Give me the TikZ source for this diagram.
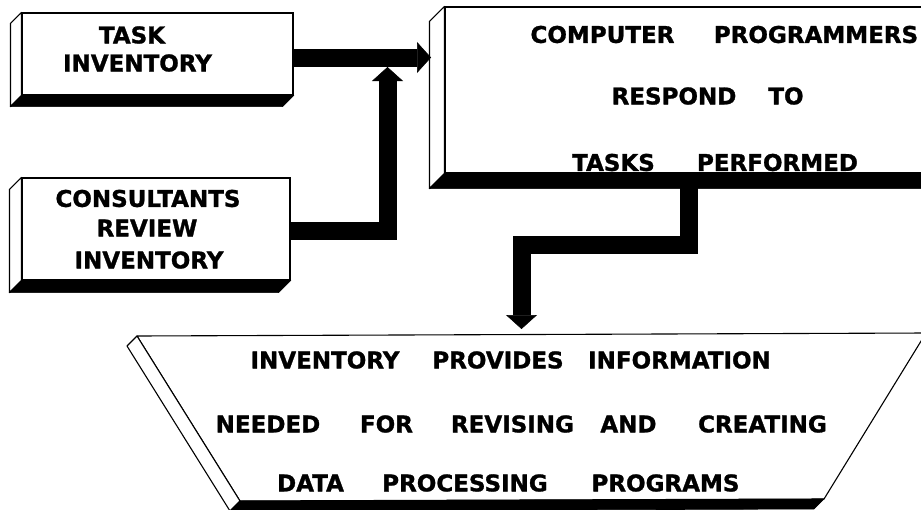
\documentclass[tikz,border=0pt]{standalone}
\usepackage{fontspec}
\setmainfont{DejaVu Sans}[BoldFeatures={FakeBold=1.2}]
\usetikzlibrary{arrows.meta,calc}
% a word centred in a box of fixed width
\newcommand\wordbox[2]{\makebox[#1pt]{#2}}
% side face and dark bottom band of a raised slab, #1 = node, #2 = depth
\newcommand\drawslab[2]{%
  \filldraw[sideface] (#1.north west) -- ++(-#2,#2) -- ($(#1.south west)+(-#2,#2)$) -- (#1.south west) -- cycle;
  \filldraw[band] (#1.south west) -- (#1.south east) -- ++(-#2,#2) -- ($(#1.south west)+(-#2,#2)$) -- cycle;}
\begin{document}
\begin{tikzpicture}[x=1pt,y=-1pt,
  face/.style={draw=black,line width=1.1pt,fill=white,inner sep=0pt},
  sideface/.style={draw=black,line width=1.1pt,fill=white,line join=round},
  band/.style={fill=black,draw=black,line width=0.6pt},
  words/.style={inner sep=0pt,font=\bfseries\fontsize{23}{23}\selectfont},
  flow/.style={draw=black,line width=18pt,line join=miter,
    -{Triangle[width=31pt,length=14pt,line width=0.5pt]}},
]
\useasboundingbox[fill=white] (0,0) rectangle (921,509);
\begin{scope}
\clip (0,0) rectangle (921,509);

% input slabs
\node[face,minimum width=271pt,minimum height=82pt] (task) at (157.5,54) {};
\drawslab{task}{11}
\node[face,minimum width=268pt,minimum height=102pt] (cons) at (156,229) {};
\drawslab{cons}{12}

% programmers slab, running off the right edge
\node[face,minimum width=520pt,minimum height=166pt] (prog) at (705,90) {};
\drawslab{prog}{15}

% output trapezoid
\coordinate (ptl) at (137,336);
\coordinate (ptr) at (926,333);
\coordinate (pbr) at (824,499);
\coordinate (pbl) at (240,501);
\filldraw[sideface] (ptl) -- (ptr) -- (pbr) -- (pbl) -- cycle;
\filldraw[sideface] (ptl) -- ++(-10,10) -- ($(pbl)+(-10,10)$) -- (pbl) -- cycle;
\filldraw[band] (pbl) -- (pbr) -- ++(-10,10) -- ($(pbl)+(-10,10)$) -- cycle;

% labels
\node[words] (taskA) at (132,35) {TASK};
\node[words] (taskB) at (137.5,63) {INVENTORY};
\node[words] (consA) at (148,198.5) {CONSULTANTS};
\node[words] (consB) at (147,228) {REVIEW};
\node[words] (consC) at (149,260) {INVENTORY};
\node[words] (progA) at (723.5,34.5) {\wordbox{145}{COMPUTER}\hspace{40pt}\wordbox{202}{PROGRAMMERS}};
\node[words] (progB) at (707.5,96) {\wordbox{122}{RESPOND}\hspace{35pt}\wordbox{32}{TO}};
\node[words] (progC) at (714.5,162.5) {\wordbox{83}{TASKS}\hspace{43pt}\wordbox{159}{PERFORMED}};
\node[words] (outA) at (511,360) {\wordbox{144}{INVENTORY}\hspace{36pt}\wordbox{130}{PROVIDES}\hspace{27pt}\wordbox{179}{INFORMATION}};
\node[words] (outB) at (524,424) {\wordbox{104}{NEEDED}\hspace{38pt}\wordbox{57}{FOR}\hspace{35pt}\wordbox{125}{REVISING}\hspace{27pt}\wordbox{53}{AND}\hspace{38pt}\wordbox{139}{CREATING}};
\node[words] (outC) at (508,483) {\wordbox{65}{DATA}\hspace{37pt}\wordbox{170}{PROCESSING}\hspace{43pt}\wordbox{145}{PROGRAMS}};

% connectors
\coordinate (ya) at (0,57.5);
\coordinate (aend) at (431,57.5);
\coordinate (yb) at (0,231);
\coordinate (join) at (387.5,67);
\coordinate (c0) at (689,173);
\coordinate (cy) at (0,244.5);
\coordinate (tin) at (521.5,329);
\draw[flow] (task.east |- ya) -- (aend);
\draw[flow] (cons.east |- yb) -| (join);
\draw[flow] (c0) -- (c0 |- cy) -| (tin);
\end{scope}
\end{tikzpicture}
\end{document}
